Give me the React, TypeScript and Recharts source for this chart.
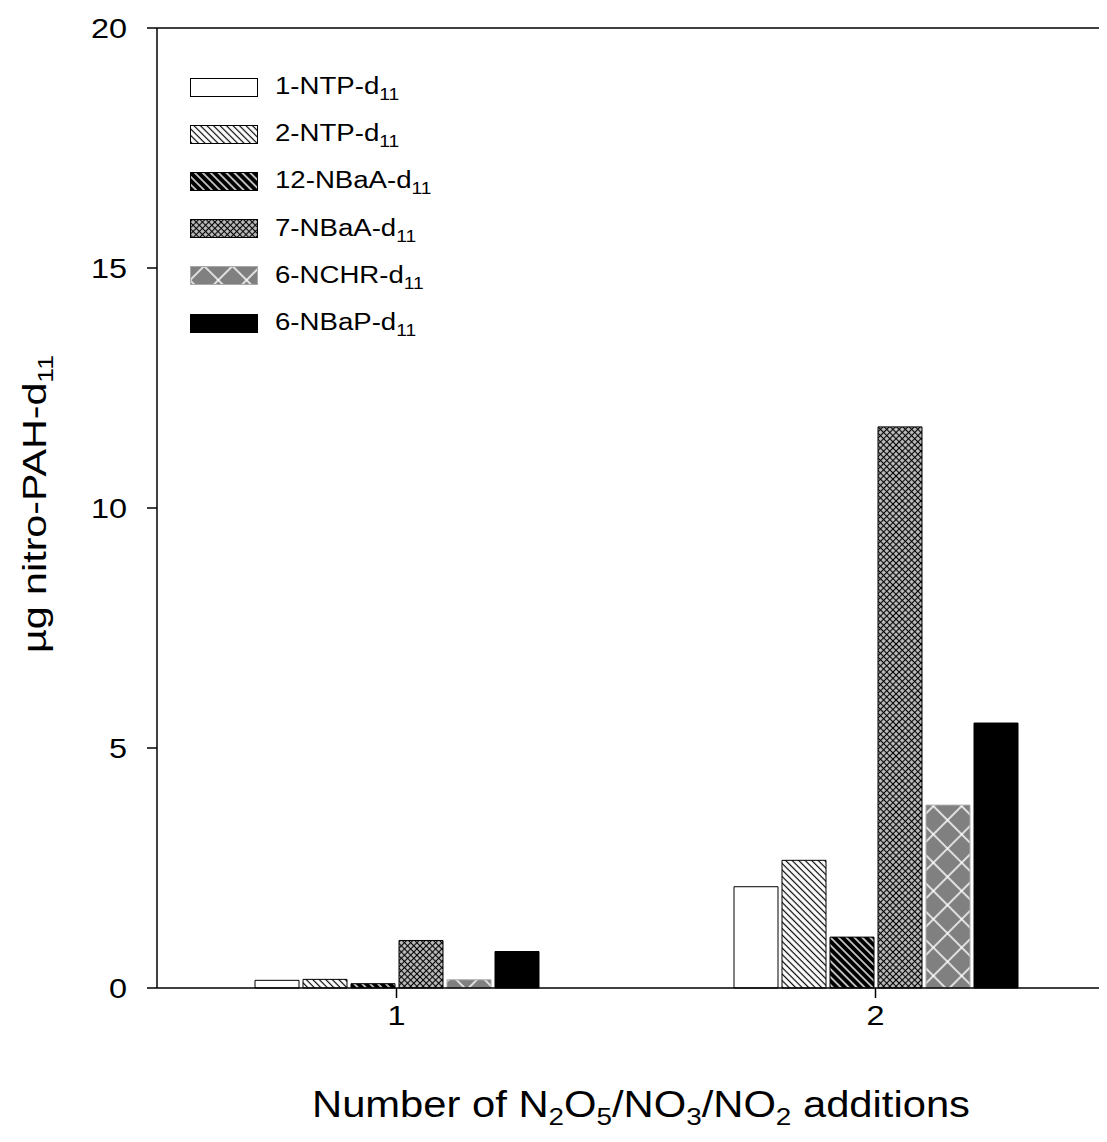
import { BarChart, Bar, XAxis, YAxis, Legend, Label, ReferenceLine } from "recharts";

const categories = ["1", "2"];
const ntp1 = [0.16, 2.11];
const ntp2 = [0.18, 2.66];
const nbaa12 = [0.09, 1.06];
const nbaa7 = [0.99, 11.69];
const nchr6 = [0.17, 3.81];
const nbap6 = [0.76, 5.52];
const yTicks = [0, 5, 10, 15, 20];

const FONT = "'Liberation Sans', Arial, sans-serif";
// the original figure is stretched a bit horizontally
const STRETCH = 1.2;

const series = [
  { key: "ntp1", name: "1-NTP-d", fill: "#ffffff", stroke: "#000" },
  { key: "ntp2", name: "2-NTP-d", fill: "url(#p2)", stroke: "#000" },
  { key: "nbaa12", name: "12-NBaA-d", fill: "url(#p3)", stroke: "#000" },
  { key: "nbaa7", name: "7-NBaA-d", fill: "url(#p4)", stroke: "#000" },
  { key: "nchr6", name: "6-NCHR-d", fill: "url(#p5)", stroke: "#a8a8a8" },
  { key: "nbap6", name: "6-NBaP-d", fill: "#000000", stroke: "#000" },
];

const data = categories.map((c, i) => ({
  cat: c,
  ntp1: ntp1[i],
  ntp2: ntp2[i],
  nbaa12: nbaa12[i],
  nbaa7: nbaa7[i],
  nchr6: nchr6[i],
  nbap6: nbap6[i],
}));

const YTick = ({ x, y, payload }: any) => (
  <g transform={`translate(${x},${y})`}>
    <text transform={`scale(${STRETCH},1)`} textAnchor="end" dy="0.355em" fontSize={27} fontFamily={FONT} fill="#000">
      {payload.value}
    </text>
  </g>
);

const XTick = ({ x, y, payload }: any) => (
  <g transform={`translate(${x},${y})`}>
    <text transform={`scale(${STRETCH},1)`} textAnchor="middle" dy="0.71em" fontSize={27} fontFamily={FONT} fill="#000">
      {payload.value}
    </text>
  </g>
);

function LegendBox() {
  return (
    <div style={{ fontFamily: FONT, color: "#000" }}>
      {series.map((s) => (
        <div key={s.key} style={{ display: "flex", alignItems: "center", height: 47.2 }}>
          <svg width={69} height={20} style={{ display: "block" }}>
            <rect x={0.5} y={0.5} width={67} height={18} fill={s.fill} stroke={s.stroke} strokeWidth={1} />
          </svg>
          <span
            style={{
              marginLeft: 16,
              fontSize: 23,
              lineHeight: "23px",
              whiteSpace: "nowrap",
              display: "inline-block",
              transform: `scaleX(${STRETCH})`,
              transformOrigin: "left center",
            }}
          >
            {s.name}
            <span style={{ fontSize: 16, position: "relative", top: 6 }}>11</span>
          </span>
        </div>
      ))}
    </div>
  );
}

export default function App() {
  return (
    <div style={{ marginLeft: -8, marginTop: -8, width: 1107, height: 1142, overflow: "hidden", position: "relative", background: "#fff" }}>
      <BarChart
        width={1120}
        height={1142}
        data={data}
        margin={{ top: 28, right: 5, left: 97, bottom: 94 }}
        barSize={44}
        barGap={4}
      >
        <defs>
          <pattern id="p2" width="4.6" height="4.6" patternUnits="userSpaceOnUse" patternTransform="rotate(-45)">
            <rect width="4.6" height="4.6" fill="#fff" />
            <line x1="2.3" y1="0" x2="2.3" y2="4.6" stroke="#000" strokeWidth="1.2" />
          </pattern>
          <pattern id="p3" width="5.6" height="5.6" patternUnits="userSpaceOnUse" patternTransform="rotate(-45)">
            <rect width="5.6" height="5.6" fill="#000" />
            <line x1="2.8" y1="0" x2="2.8" y2="5.6" stroke="#fff" strokeWidth="1.4" />
          </pattern>
          <pattern id="p4" width="4.4" height="4.4" patternUnits="userSpaceOnUse" patternTransform="rotate(45)">
            <rect width="4.4" height="4.4" fill="#c0c0c0" />
            <line x1="2.2" y1="0" x2="2.2" y2="4.4" stroke="#000" strokeWidth="1.1" />
            <line x1="0" y1="2.2" x2="4.4" y2="2.2" stroke="#000" strokeWidth="1.1" />
          </pattern>
          <pattern id="p5" width="20" height="20" patternUnits="userSpaceOnUse" patternTransform="rotate(45)">
            <rect width="20" height="20" fill="#808080" />
            <line x1="10" y1="0" x2="10" y2="20" stroke="#fff" strokeWidth="1.5" />
            <line x1="0" y1="10" x2="20" y2="10" stroke="#fff" strokeWidth="1.5" />
          </pattern>
        </defs>
        <XAxis
          dataKey="cat"
          height={60}
          tickSize={10}
          tickMargin={8}
          axisLine={{ stroke: "#000", strokeWidth: 1.5 }}
          tickLine={{ stroke: "#000", strokeWidth: 1.5 }}
          tick={<XTick />}
        >
          <Label
            content={() => (
              <text x={641} y={1117} textAnchor="middle" fontSize={36} fontFamily={FONT} fill="#000" textLength={658} lengthAdjust="spacingAndGlyphs">
                Number of N<tspan dy={8} fontSize={24}>2</tspan>
                <tspan dy={-8}>O</tspan><tspan dy={8} fontSize={24}>5</tspan>
                <tspan dy={-8}>/NO</tspan><tspan dy={8} fontSize={24}>3</tspan>
                <tspan dy={-8}>/NO</tspan><tspan dy={8} fontSize={24}>2</tspan>
                <tspan dy={-8}> additions</tspan>
              </text>
            )}
          />
        </XAxis>
        <YAxis
          width={60}
          domain={[0, 20]}
          ticks={yTicks}
          tickSize={10}
          tickMargin={20}
          axisLine={{ stroke: "#000", strokeWidth: 1.5 }}
          tickLine={{ stroke: "#000", strokeWidth: 1.5 }}
          tick={<YTick />}
        >
          <Label
            content={() => (
              <text x={46} y={504} transform="rotate(-90 46 504)" textAnchor="middle" fontSize={34} fontFamily={FONT} fill="#000" textLength={298} lengthAdjust="spacingAndGlyphs">
                µg nitro-PAH-d<tspan dy={7} fontSize={22}>11</tspan>
              </text>
            )}
          />
        </YAxis>
        <ReferenceLine y={20} stroke="#000" strokeWidth={1.5} ifOverflow="visible" />
        <Legend
          layout="vertical"
          align="center"
          verticalAlign="middle"
          content={() => <LegendBox />}
          wrapperStyle={{ top: 64, left: 190, width: 330, height: 290 }}
        />
        {series.map((s) => (
          <Bar
            key={s.key}
            dataKey={s.key}
            name={s.name}
            fill={s.fill}
            stroke={s.stroke}
            strokeWidth={1}
            isAnimationActive={false}
          />
        ))}
      </BarChart>
    </div>
  );
}
